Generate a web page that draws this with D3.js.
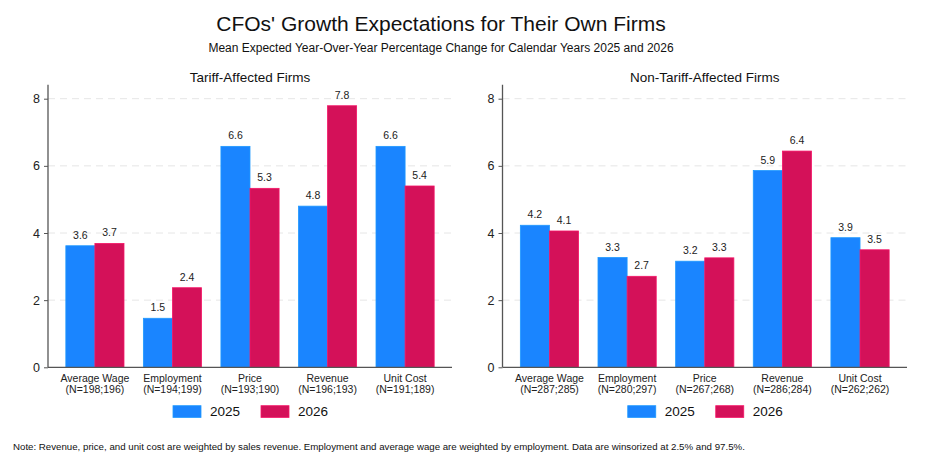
<!DOCTYPE html>
<html>
<head>
<meta charset="utf-8">
<script src="https://cdn.jsdelivr.net/npm/d3@7"></script>
<style>
  body { margin: 0; background: #fff; }
  svg { font-family: "Liberation Sans", Arial, sans-serif; }
</style>
</head>
<body>
<div id="chart"></div>
<script>
// categories and sample sizes
const categories = ["Average Wage", "Employment", "Price", "Revenue", "Unit Cost"];
const years = ["2025", "2026"];
const yTicks = [0, 2, 4, 6, 8];

// tariff-affected firms
const tariffN = ["(N=198;196)", "(N=194;199)", "(N=193;190)", "(N=196;193)", "(N=191;189)"];
const tariff2025 = [3.62, 1.46, 6.58, 4.80, 6.58];
const tariff2026 = [3.69, 2.37, 5.33, 7.79, 5.40];

// non-tariff-affected firms
const nonTariffN = ["(N=287;285)", "(N=280;297)", "(N=267;268)", "(N=286;284)", "(N=262;262)"];
const nonTariff2025 = [4.23, 3.27, 3.16, 5.86, 3.86];
const nonTariff2026 = [4.06, 2.71, 3.26, 6.44, 3.50];

const colors = { "2025": "#1a85ff", "2026": "#d41159" };
const fmt = d3.format(".1f");

const width = 930, height = 465;
const svg = d3.select("#chart").append("svg")
  .attr("width", width)
  .attr("height", height);

// titles
svg.append("text")
  .attr("x", 441).attr("y", 31)
  .attr("text-anchor", "middle")
  .attr("font-size", 21)
  .attr("fill", "#111")
  .text("CFOs' Growth Expectations for Their Own Firms");

svg.append("text")
  .attr("x", 441).attr("y", 52)
  .attr("text-anchor", "middle")
  .attr("font-size", 12)
  .attr("fill", "#111")
  .text("Mean Expected Year-Over-Year Percentage Change for Calendar Years 2025 and 2026");

const y = d3.scaleLinear().domain([0, 8]).range([367.3, 98.7]);

function drawPanel(title, nLabels, v2025, v2026, x0, x1) {
  const g = svg.append("g");

  const x = d3.scaleBand()
    .domain(categories)
    .range([x0, x1])
    .paddingInner(0.25)
    .paddingOuter(0.23);

  const xs = d3.scaleBand().domain(years).range([0, x.bandwidth()]);

  // panel title
  g.append("text")
    .attr("x", (x0 + x1) / 2).attr("y", 82)
    .attr("text-anchor", "middle")
    .attr("font-size", 13.5)
    .attr("fill", "#111")
    .text(title);

  // dashed grid
  g.selectAll("line.grid")
    .data(yTicks.filter(d => d > 0))
    .enter().append("line")
    .attr("class", "grid")
    .attr("x1", x0).attr("x2", x1)
    .attr("y1", d => y(d)).attr("y2", d => y(d))
    .attr("stroke", "#e6e6e6")
    .attr("stroke-width", 1)
    .attr("stroke-dasharray", "7,5");

  // bars
  const rows = categories.map((c, i) => ({ cat: c, vals: [
    { year: "2025", v: v2025[i] },
    { year: "2026", v: v2026[i] }
  ] }));

  const grp = g.selectAll("g.cat")
    .data(rows)
    .enter().append("g")
    .attr("transform", d => `translate(${x(d.cat)},0)`);

  grp.selectAll("rect")
    .data(d => d.vals)
    .enter().append("rect")
    .attr("x", d => xs(d.year))
    .attr("y", d => y(d.v))
    .attr("width", xs.bandwidth())
    .attr("height", d => y(0) - y(d.v))
    .attr("fill", d => colors[d.year])
    .attr("stroke", d => d3.color(colors[d.year]).brighter(0.4))
    .attr("stroke-width", 0.8);

  grp.selectAll("text.val")
    .data(d => d.vals)
    .enter().append("text")
    .attr("class", "val")
    .attr("x", d => xs(d.year) + xs.bandwidth() / 2)
    .attr("y", d => y(d.v) - 7)
    .attr("text-anchor", "middle")
    .attr("font-size", 10.5)
    .attr("fill", "#222")
    .text(d => fmt(d.v));

  // y axis
  const yAxis = g.append("g")
    .attr("transform", `translate(${x0},0)`)
    .call(d3.axisLeft(y).tickValues(yTicks).tickSize(4).tickPadding(4).tickFormat(d3.format("d")));
  yAxis.select(".domain").attr("stroke", "#555").attr("stroke-width", 1.3).attr("d", `M0,${y(0)}V${y(8) - 14}`);
  yAxis.selectAll(".tick line").attr("stroke", "#555");
  yAxis.selectAll(".tick text").attr("font-size", 12.5).attr("fill", "#222").attr("font-family", null);

  // x axis
  const xAxis = g.append("g")
    .attr("transform", `translate(0,${y(0)})`)
    .call(d3.axisBottom(x).tickSize(0).tickFormat(""));
  xAxis.select(".domain").attr("stroke", "#555").attr("stroke-width", 1.3).attr("d", `M${x0},0H${x1}`);

  xAxis.selectAll(".tick").each(function (d, i) {
    const t = d3.select(this).append("text")
      .attr("text-anchor", "middle")
      .attr("font-size", 10.5)
      .attr("fill", "#222")
      .attr("font-family", "Liberation Sans, Arial, sans-serif");
    t.append("tspan").attr("x", 0).attr("y", 15).text(d);
    t.append("tspan").attr("x", 0).attr("y", 26).text(nLabels[i]);
  });

  // legend
  const cx = (x0 + x1) / 2;
  const lg = g.append("g").attr("transform", `translate(${cx - 77},405.7)`);
  years.forEach((yr, i) => {
    lg.append("rect")
      .attr("x", i * 88).attr("y", 0)
      .attr("width", 28).attr("height", 11.7)
      .attr("fill", colors[yr])
      .attr("stroke", d3.color(colors[yr]).brighter(0.4))
      .attr("stroke-width", 0.8);
    lg.append("text")
      .attr("x", i * 88 + 37).attr("y", 10.5)
      .attr("font-size", 13.5)
      .attr("fill", "#111")
      .text(yr);
  });
}

drawPanel("Tariff-Affected Firms", tariffN, tariff2025, tariff2026, 48, 452);
drawPanel("Non-Tariff-Affected Firms", nonTariffN, nonTariff2025, nonTariff2026, 502.5, 907);

// note
svg.append("text")
  .attr("x", 13).attr("y", 450)
  .attr("font-size", 9.7)
  .attr("fill", "#111")
  .text("Note: Revenue, price, and unit cost are weighted by sales revenue. Employment and average wage are weighted by employment. Data are winsorized at 2.5% and 97.5%.");
</script>
</body>
</html>
